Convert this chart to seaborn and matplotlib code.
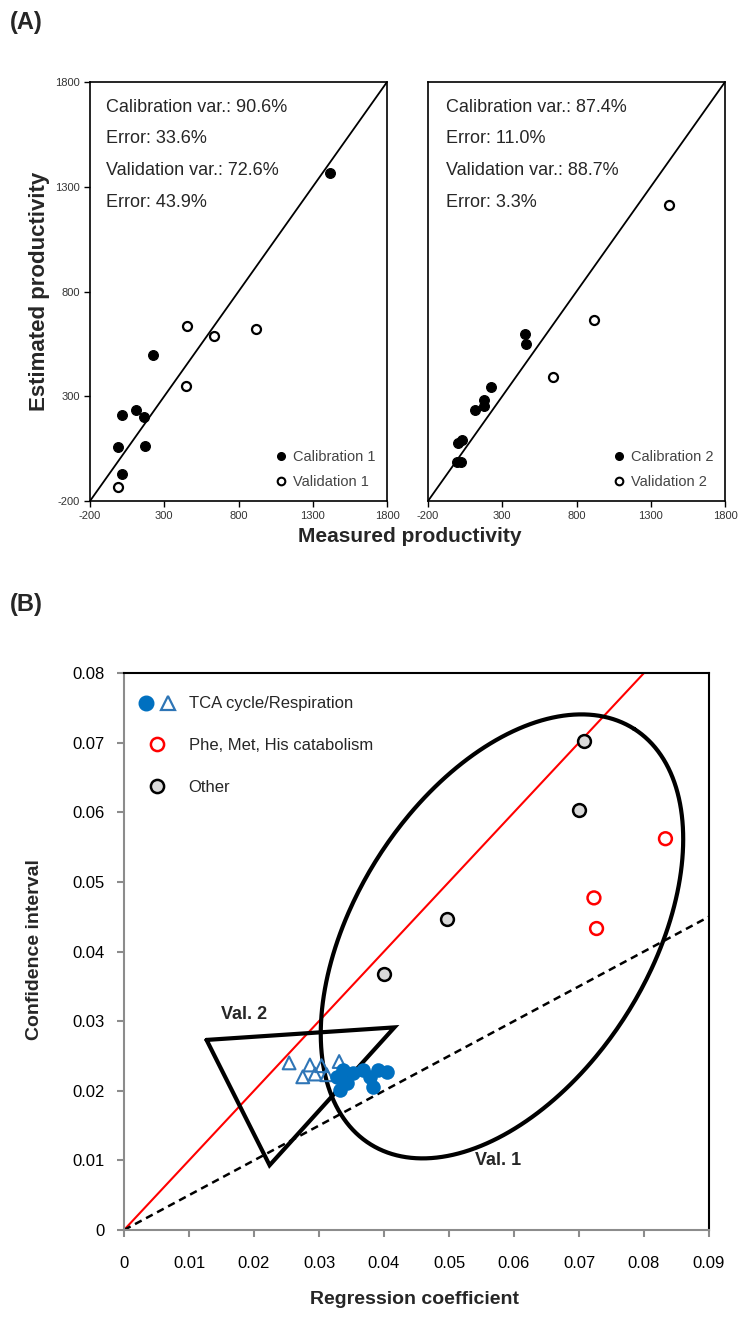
import numpy as np
import pandas as pd
import seaborn as sns
import matplotlib.pyplot as plt
from matplotlib.lines import Line2D
from matplotlib.legend_handler import HandlerTuple

sns.set_style("white")
plt.rcParams['font.family'] = ['Liberation Sans', 'DejaVu Sans']
plt.rcParams['axes.unicode_minus'] = False

# ---- panel A : measured vs estimated productivity ----
cal1_x = [1418, 222, 18, 110, 164, -9, 171, 13]
cal1_y = [1366, 495, 212, 236, 201, 58, 63, -73]
val1_x = [452, 638, 915, 447, -9]
val1_y = [634, 586, 623, 351, -133]

cal2_x = [452, 458, 227, 175, 177, 117, 2, 29, -2, 25]
cal2_y = [596, 551, 344, 281, 252, 233, 77, 90, -14, -14]
val2_x = [1425, 921, 643]
val2_y = [1215, 666, 392]

stats1 = ["Calibration var.: 90.6%", "Error: 33.6%", "Validation var.: 72.6%", "Error: 43.9%"]
stats2 = ["Calibration var.: 87.4%", "Error: 11.0%", "Validation var.: 88.7%", "Error: 3.3%"]
prod_ticks = [-200, 300, 800, 1300, 1800]

# ---- panel B : regression coefficient vs confidence interval ----
tca_circ_x = [0.0337, 0.0332, 0.0353, 0.0378, 0.0383, 0.0404, 0.0391, 0.0368, 0.0343, 0.0328]
tca_circ_y = [0.0230, 0.0201, 0.0225, 0.0220, 0.0206, 0.0227, 0.0230, 0.0230, 0.0211, 0.0220]
tca_tri_x = [0.0254, 0.0286, 0.0304, 0.0331, 0.0275, 0.0294, 0.0312]
tca_tri_y = [0.0240, 0.0237, 0.0236, 0.0242, 0.0220, 0.0224, 0.0223]
phe_x = [0.0833, 0.0723, 0.0727]
phe_y = [0.0562, 0.0477, 0.0433]
other_x = [0.0400, 0.0497, 0.0700, 0.0707]
other_y = [0.0368, 0.0447, 0.0603, 0.0703]

b_xticks = [0, 0.01, 0.02, 0.03, 0.04, 0.05, 0.06, 0.07, 0.08, 0.09]
b_yticks = [0, 0.01, 0.02, 0.03, 0.04, 0.05, 0.06, 0.07, 0.08]

# Val. 1 ellipse (centre in data units, semi-axes in pixels, tilt in degrees)
ell_center = (0.05815, 0.04217)
ell_axes = (246, 147)
ell_angle = 57.5
# Val. 2 triangle
tri_x = [0.0127, 0.0416, 0.0224, 0.0127]
tri_y = [0.0273, 0.0291, 0.0093, 0.0273]

W, H = 744, 1324
fig = plt.figure(figsize=(W / 100, H / 100), dpi=100)

axA1 = fig.add_axes([90 / W, 1 - 501 / H, 297 / W, 419 / H])
axA2 = fig.add_axes([428 / W, 1 - 501 / H, 297 / W, 419 / H])
axB = fig.add_axes([124 / W, 1 - 1230 / H, 585 / W, 557 / H])

panels = [(axA1, cal1_x, cal1_y, val1_x, val1_y, stats1, "1", 0.054),
          (axA2, cal2_x, cal2_y, val2_x, val2_y, stats2, "2", 0.061)]
for ax, cx, cy, vx, vy, st, n, tx in panels:
    ax.axline((-200, -200), slope=1, color="black", lw=1.3, zorder=1)
    sns.scatterplot(x=cx, y=cy, ax=ax, color="black", s=50, edgecolor="black",
                    linewidth=0.8, zorder=3)
    sns.scatterplot(x=vx, y=vy, ax=ax, facecolor="white", edgecolor="black",
                    s=42, linewidth=1.6, zorder=3)
    ax.set_xlim(-200, 1800)
    ax.set_ylim(-200, 1800)
    ax.set_xticks(prod_ticks)
    ax.set_yticks(prod_ticks)
    ax.tick_params(direction="out", length=4, width=1, colors="black",
                   labelsize=8, labelcolor="#333333", bottom=True, left=True)
    for sp in ax.spines.values():
        sp.set_color("black")
        sp.set_linewidth(1.2)
    for i, s in enumerate(st):
        ax.text(tx, 0.940 - i * 0.0755, s, transform=ax.transAxes, fontsize=13,
                va="center", ha="left")
    h = [Line2D([], [], ls="", marker="o", ms=5.5, mfc="black", mec="black"),
         Line2D([], [], ls="", marker="o", ms=5.5, mfc="white", mec="black", mew=1.5)]
    leg = ax.legend(h, ["Calibration " + n, "Validation " + n], loc="lower right",
                    frameon=False, fontsize=10.5, handlelength=0.8, handletextpad=0.4,
                    labelspacing=0.75, borderpad=0, borderaxespad=0.8)
    for t in leg.get_texts():
        t.set_color("#444444")

axA2.tick_params(left=False, labelleft=False)

fig.text(10 / W, 1 - 22 / H, "(A)", fontsize=17, fontweight="bold", va="center")
fig.text(40 / W, 1 - 291 / H, "Estimated productivity", fontsize=16, fontweight="bold",
         rotation=90, va="center", ha="center")
fig.text(410 / W, 1 - 537 / H, "Measured productivity", fontsize=15, fontweight="bold",
         va="center", ha="center")

# ---- panel B ----
ax = axB
ax.axline((0, 0), slope=1, color="red", lw=1.5, zorder=1)
ax.axline((0, 0), slope=0.5, color="black", lw=1.8, ls=(0, (3, 2)), zorder=1)

t = np.linspace(0, 2 * np.pi, 400)
a = np.deg2rad(ell_angle)
px_x = 585 / 0.09
px_y = 557 / 0.08
eu = ell_axes[0] * np.cos(t) * np.cos(a) - ell_axes[1] * np.sin(t) * np.sin(a)
ev = ell_axes[0] * np.cos(t) * np.sin(a) + ell_axes[1] * np.sin(t) * np.cos(a)
ax.plot(ell_center[0] + eu / px_x, ell_center[1] + ev / px_y, color="black", lw=3, zorder=2)
ax.plot(tri_x, tri_y, color="black", lw=3, zorder=2, solid_joinstyle="miter")

sns.scatterplot(x=tca_tri_x, y=tca_tri_y, ax=ax, marker="^", s=85, facecolor="none",
                edgecolor="#2e75b6", linewidth=1.5, zorder=3)
sns.scatterplot(x=tca_circ_x, y=tca_circ_y, ax=ax, marker="o", s=110, color="#0070c0",
                edgecolor="#0070c0", linewidth=0, zorder=4)
sns.scatterplot(x=phe_x, y=phe_y, ax=ax, marker="o", s=85, facecolor="none",
                edgecolor="red", linewidth=1.8, zorder=3)
sns.scatterplot(x=other_x, y=other_y, ax=ax, marker="o", s=85, color="#d9d9d9",
                edgecolor="black", linewidth=1.8, zorder=3)

ax.text(0.0185, 0.0309, "Val. 2", fontsize=13, fontweight="bold", ha="center", va="center")
ax.text(0.0575, 0.0100, "Val. 1", fontsize=13, fontweight="bold", ha="center", va="center")

ax.set_xlim(0, 0.09)
ax.set_ylim(0, 0.08)
ax.set_xticks(b_xticks)
ax.set_xticklabels(["0" if v == 0 else f"{v:g}" for v in b_xticks])
ax.set_yticks(b_yticks)
ax.set_yticklabels(["0" if v == 0 else f"{v:g}" for v in b_yticks])
ax.tick_params(direction="out", length=5, width=1.5, colors="#8c8c8c", labelsize=12,
               labelcolor="black", bottom=True, left=True)
ax.tick_params(axis="x", pad=14)
ax.tick_params(axis="y", pad=9)
for side in ["left", "bottom"]:
    ax.spines[side].set_color("#8c8c8c")
    ax.spines[side].set_linewidth(1.5)
for side in ["top", "right"]:
    ax.spines[side].set_color("black")
    ax.spines[side].set_linewidth(1.5)

hb = [(Line2D([], [], ls="", marker="o", ms=10.5, mfc="#0070c0", mec="#0070c0"),
       Line2D([], [], ls="", marker="^", ms=9.5, mfc="none", mec="#2e75b6", mew=1.6)),
      Line2D([], [], ls="", marker="o", ms=9.5, mfc="none", mec="red", mew=1.8),
      Line2D([], [], ls="", marker="o", ms=9.5, mfc="#d9d9d9", mec="black", mew=1.8)]
ax.legend(hb, ["TCA cycle/Respiration", "Phe, Met, His catabolism", "Other"],
          handler_map={tuple: HandlerTuple(ndivide=None, pad=0.3)},
          loc="upper left", bbox_to_anchor=(0.022, 0.958), frameon=False, fontsize=12,
          handlelength=2.4, handletextpad=0.7, labelspacing=1.6, borderpad=0,
          borderaxespad=0)

fig.text(10 / W, 1 - 605 / H, "(B)", fontsize=17, fontweight="bold", va="center")
fig.text(35 / W, 1 - 950 / H, "Confidence interval", fontsize=14, fontweight="bold",
         rotation=90, va="center", ha="center")
fig.text(415 / W, 1 - 1299 / H, "Regression coefficient", fontsize=14, fontweight="bold",
         va="center", ha="center")

fig.savefig("out.png", dpi=100)
